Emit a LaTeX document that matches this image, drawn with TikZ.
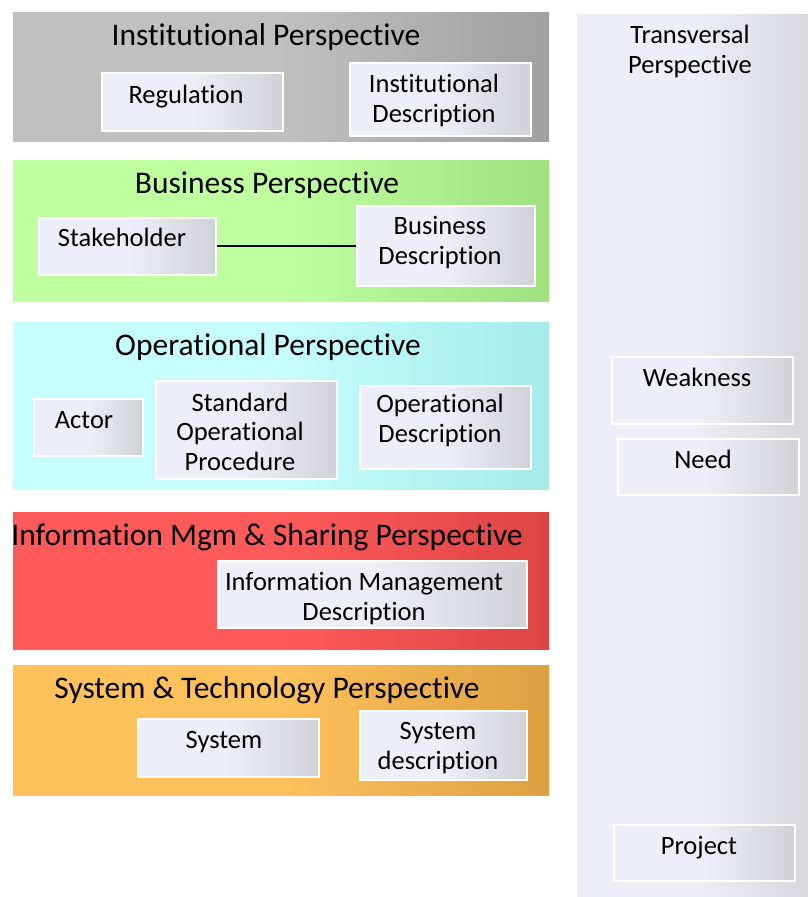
\documentclass[tikz,border=0pt]{standalone}
\usepackage{fontspec}
\setmainfont{Carlito}[Ligatures=NoCommon]
\definecolor{grayL}{HTML}{C0C0C0}\definecolor{grayR}{HTML}{A0A0A0}
\definecolor{greenL}{HTML}{C0FF9F}\definecolor{greenR}{HTML}{A0E07F}
\definecolor{cyanL}{HTML}{C6FDFD}\definecolor{cyanR}{HTML}{A6EAEA}
\definecolor{redL}{HTML}{FF5A5A}\definecolor{redR}{HTML}{DC4444}
\definecolor{orangeL}{HTML}{FFC15C}\definecolor{orangeR}{HTML}{DCA040}
\definecolor{boxL}{HTML}{ECEFF7}\definecolor{boxR}{HTML}{D0D2D8}
\definecolor{transR}{HTML}{D6D8DE}
\begin{document}
\begin{tikzpicture}[x=1pt,y=-1pt,
  hgrad/.style 2 args={left color=#1,right color=#2,middle color=#1},
  band/.style={draw=none,inner sep=0pt,anchor=north west},
  itembox/.style={draw=white,line width=1.5pt,inner sep=0pt,anchor=north west,hgrad={boxL}{boxR}},
  titletext/.style={anchor=base,inner sep=0pt,font=\fontsize{31.5}{29}\selectfont,align=center},
  itemtext/.style={anchor=base,inner sep=0pt,font=\fontsize{26.5}{29.5}\selectfont,align=center}]
\useasboundingbox (0,0) rectangle (808,897);
\fill[white] (0,0) rectangle (808,897);
% bands
\node[band,hgrad={grayL}{grayR},minimum width=536pt,minimum height=129pt] (inst) at (13,12) {};
\node[band,hgrad={greenL}{greenR},minimum width=536pt,minimum height=141pt] (bus) at (13,160) {};
\node[band,hgrad={cyanL}{cyanR},minimum width=536pt,minimum height=167pt] (oper) at (13,322) {};
\node[band,hgrad={redL}{redR},minimum width=536pt,minimum height=137pt] (info) at (13,512) {};
\node[band,hgrad={orangeL}{orangeR},minimum width=536pt,minimum height=130pt] (syst) at (13,665) {};
\node[band,hgrad={boxL}{transR},minimum width=231pt,minimum height=883pt] (trans) at (577,14) {};
% titles
\node[titletext] (instT) at (266,45) {Institutional Perspective};
\node[titletext] (busT) at (267,193) {Business Perspective};
\node[titletext] (operT) at (268,355) {Operational Perspective};
\node[titletext] (infoT) at (267,545) {Information Mgm \& Sharing Perspective};
\node[titletext] (systT) at (267,698) {System \& Technology Perspective};
\node[itemtext] (transT) at (690,73) {Transversal\\Perspective};
% item boxes
\node[itembox,minimum width=181pt,minimum height=58pt] (reg) at (101,72) {};
\node[itembox,minimum width=181pt,minimum height=73pt] (instd) at (349,62) {};
\node[itembox,minimum width=177pt,minimum height=57pt] (stake) at (38,217) {};
\node[itembox,minimum width=178pt,minimum height=80pt] (busd) at (356,205) {};
\node[itembox,minimum width=109pt,minimum height=57pt] (actor) at (33,398) {};
\node[itembox,minimum width=181pt,minimum height=98pt] (sop) at (155,380) {};
\node[itembox,minimum width=171pt,minimum height=83pt] (operd) at (359,385) {};
\node[itembox,minimum width=309pt,minimum height=67pt] (infod) at (217,560) {};
\node[itembox,minimum width=181pt,minimum height=58pt] (sys) at (137,718) {};
\node[itembox,minimum width=167pt,minimum height=69pt] (sysd) at (359,710) {};
\node[itembox,minimum width=181pt,minimum height=67pt] (weak) at (611,356) {};
\node[itembox,minimum width=181pt,minimum height=56pt] (need) at (617,438) {};
\node[itembox,minimum width=181pt,minimum height=56pt] (proj) at (613,824) {};
% item texts
\node[itemtext] (regT) at (186,103) {Regulation};
\node[itemtext] (instdT) at (434,122) {Institutional\\Description};
\node[itemtext] (stakeT) at (122,246) {Stakeholder};
\node[itemtext] (busdT) at (440,264) {Business\\Description};
\node[itemtext] (actorT) at (84,428) {Actor};
\node[itemtext] (sopT) at (240,470) {Standard\\Operational\\Procedure};
\node[itemtext] (operdT) at (440,442) {Operational\\Description};
\node[itemtext] (infodT) at (364,620) {Information Management\\Description};
\node[itemtext] (sysT) at (224,748) {System};
\node[itemtext] (sysdT) at (438,769) {System\\description};
\node[itemtext] (weakT) at (697,386) {Weakness};
\node[itemtext] (needT) at (703,468) {Need};
\node[itemtext] (projT) at (699,854) {Project};
% connector
\draw[line width=2pt] (stake.east) -- (stake.east -| busd.west);
\end{tikzpicture}
\end{document}
